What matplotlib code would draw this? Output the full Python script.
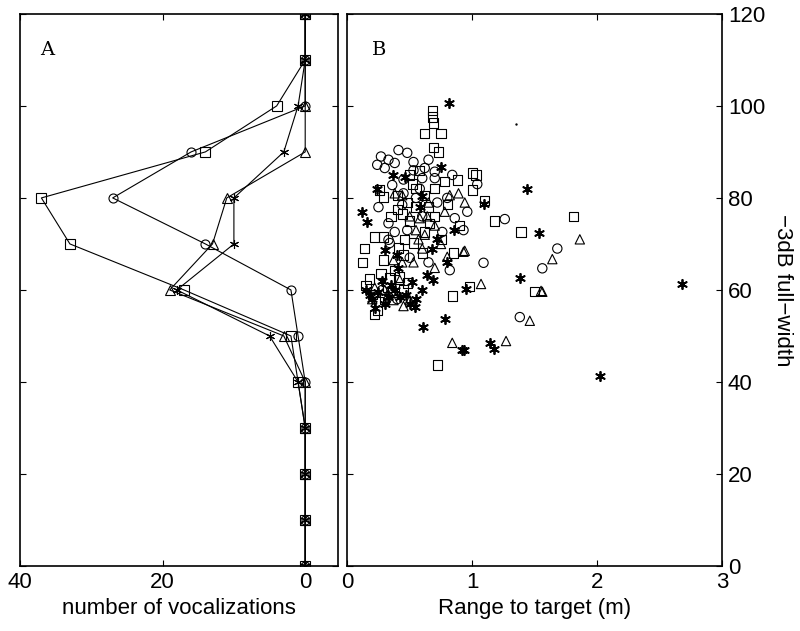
import numpy as np
import matplotlib.pyplot as plt

plt.rcParams['font.family'] = ['Liberation Sans', 'DejaVu Sans']

# Panel A: histogram of beam widths per bat (number of vocalizations)
widths = [0, 10, 20, 30, 40, 50, 60, 70, 80, 90, 100, 110, 120]
count_sq = [0, 0, 0, 0, 1, 2, 17, 33, 37, 14, 4, 0, 0]
count_ci = [0, 0, 0, 0, 0, 1, 2, 14, 27, 16, 0, 0, 0]
count_tr = [0, 0, 0, 0, 0, 3, 19, 13, 11, 0, 0, 0, 0]
count_st = [0, 0, 0, 0, 1, 5, 18, 10, 10, 3, 1, 0, 0]

# Panel B: beam width vs range to target
sq_range = [0.68, 0.68, 0.69, 0.62, 0.75, 0.69, 0.73, 0.78, 0.88, 1.0, 1.0, 0.26, 0.29,
            0.55, 0.62, 0.48, 0.40, 1.03, 1.10, 1.18, 1.81, 1.39, 0.98, 1.50, 0.22,
            0.29, 0.14, 0.12, 0.29, 0.46, 0.41, 0.45, 0.38, 0.42, 0.53, 0.62, 0.34,
            0.18, 0.84, 0.22, 0.24, 0.72, 0.20, 0.30, 0.45, 0.55, 0.65, 0.70, 0.50,
            0.35, 0.75, 0.60, 0.90, 0.85, 0.50, 0.58, 0.70, 0.32, 0.25, 0.15,
            0.36, 0.48, 0.27, 0.40, 0.66, 0.80, 0.52, 0.44]
sq_width = [99, 97.6, 96.3, 94, 94, 90.9, 90, 83.5, 83.9, 81.7, 85.4, 81.7, 80.2,
            82, 80.5, 79, 77.5, 85, 79.5, 75, 75.9, 72.6, 60.7, 59.6, 71.5,
            71.5, 69, 66, 66.5, 70.9, 69.1, 67.6, 64.3, 62.8, 70.2, 72.6, 62.6,
            62.4, 58.7, 54.6, 55.5, 43.7, 59, 58, 60, 78, 78, 76, 75,
            76, 71, 68, 74, 68, 85, 86, 82, 60.5, 57.5, 61,
            59.5, 61.5, 63.5, 80.5, 74.5, 78.5, 83, 76.5]

ci_range = [0.41, 0.48, 0.33, 0.24, 0.30, 0.38, 0.53, 0.53, 0.65, 0.70, 0.70, 0.84,
            0.60, 0.36, 1.04, 0.96, 1.26, 1.68, 1.56, 1.09, 1.38, 0.33, 0.76, 0.86,
            0.93, 0.82, 0.38, 0.48, 0.33, 0.34, 0.45, 0.55, 0.60, 0.72, 0.50, 0.65,
            0.25, 0.28, 0.40, 0.80, 0.45, 0.58, 0.27, 0.44, 0.62]
ci_width = [90.4, 89.8, 88.3, 87.2, 86.5, 87.6, 87.8, 86, 88.3, 85.7, 84.3, 85,
            84.3, 82.8, 83, 77, 75.4, 69, 64.7, 65.9, 54.1, 74.5, 72.6, 75.6,
            73, 64.3, 72.6, 73, 70.9, 70.2, 81, 80, 76, 79, 67, 66,
            78, 60, 58, 80, 84, 82, 89, 78.5, 86.5]

tr_range = [0.94, 0.94, 1.86, 1.64, 1.56, 1.07, 1.55, 1.46, 1.27, 0.84, 0.37, 0.50,
            0.58, 0.64, 0.44, 0.82, 0.89, 0.93, 0.53, 0.62, 0.70, 0.80, 0.42, 0.44,
            0.37, 0.70, 0.78, 0.55, 0.60, 0.30, 0.22, 0.45, 0.50, 0.75, 0.65, 0.38,
            0.20, 0.33, 0.57]
tr_width = [79, 68.5, 71, 66.7, 59.6, 61.3, 59.8, 53.3, 48.9, 48.5, 57.8, 57.8,
            75.6, 76, 80.6, 80.6, 81, 68.3, 66, 72, 64.8, 67.2, 62.2, 66,
            66.5, 74, 77, 73, 69, 60, 60.5, 56.5, 76, 70, 79, 81,
            58, 59, 71]

st_range = [0.81, 0.75, 0.37, 0.46, 1.44, 1.09, 1.53, 1.38, 0.95, 1.14, 1.17, 0.93,
            0.54, 0.78, 0.61, 0.92, 2.68, 2.02, 0.12, 0.16, 0.68, 0.64, 0.69, 0.52,
            0.41, 0.40, 0.30, 0.20, 0.25, 0.30, 0.15, 0.35, 0.47, 0.55, 0.60, 0.22,
            0.28, 0.42, 0.80, 0.72, 0.58, 0.60, 0.24, 0.85, 0.18, 0.33, 0.38, 0.50]
st_width = [100.6, 86.7, 85, 84.5, 82, 78.7, 72.4, 62.6, 60.2, 48.5, 47.2, 47,
            56.3, 53.7, 52, 47, 61.3, 41.3, 77, 74.8, 69, 63.3, 62.2, 61.7,
            64.8, 67.6, 68.7, 58, 59.5, 57, 60, 61, 59, 58, 60, 56,
            62, 58.5, 66, 71, 78, 80.5, 82, 73, 59, 58.5, 60, 57]

stray_range = [1.35]
stray_width = [96]

asterisk = (6, 2, 0)

fig = plt.figure(figsize=(8, 6.31), dpi=100)
axA = fig.add_axes([0.025, 0.103, 0.3975, 0.875])
axB = fig.add_axes([0.434, 0.103, 0.469, 0.875])

lw = 0.8
mk = dict(color='black', linewidth=lw, markerfacecolor='none', markeredgecolor='black',
          markeredgewidth=0.8, markersize=6.5)
axA.plot(count_sq, widths, marker='s', **mk)
axA.plot(count_ci, widths, marker='o', **mk)
axA.plot(count_tr, widths, marker='^', **mk)
axA.plot(count_st, widths, marker=asterisk, **mk)

axA.set_xlim(40, -4.6)
axA.set_ylim(0, 120)
axA.set_xticks([40, 20, 0])
axA.set_yticks(np.arange(0, 121, 20))
axA.set_yticklabels([])
axA.set_xlabel('number of vocalizations', fontsize=16)
axA.text(0.085, 0.935, 'A', transform=axA.transAxes, fontsize=14,
         family='DejaVu Serif', va='center', ha='center')

sc = dict(facecolors='none', edgecolors='black', linewidths=0.8, s=45)
axB.scatter(sq_range, sq_width, marker='s', **sc)
axB.scatter(ci_range, ci_width, marker='o', **sc)
axB.scatter(tr_range, tr_width, marker='^', **sc)
axB.scatter(st_range, st_width, marker=asterisk, color='black', linewidths=1.3, s=45)
axB.scatter(stray_range, stray_width, marker='.', color='black', s=2)

axB.set_xlim(0, 3)
axB.set_ylim(0, 120)
axB.set_xticks([0, 1, 2, 3])
axB.set_yticks(np.arange(0, 121, 20))
axB.yaxis.tick_right()
axB.yaxis.set_label_position('right')
axB.set_xlabel('Range to target (m)', fontsize=16)
axB.set_ylabel('\u22123dB full\u2212width', fontsize=16, rotation=-90, labelpad=20)
axB.text(0.085, 0.935, 'B', transform=axB.transAxes, fontsize=14,
         family='DejaVu Serif', va='center', ha='center')

for ax in (axA, axB):
    ax.tick_params(direction='in', top=True, bottom=True, left=True, right=True,
                   length=4, labelsize=16, pad=4)
    for s in ax.spines.values():
        s.set_linewidth(1.2)
axB.tick_params(labelleft=False, labelright=True)

fig.savefig('out.png', dpi=100)
